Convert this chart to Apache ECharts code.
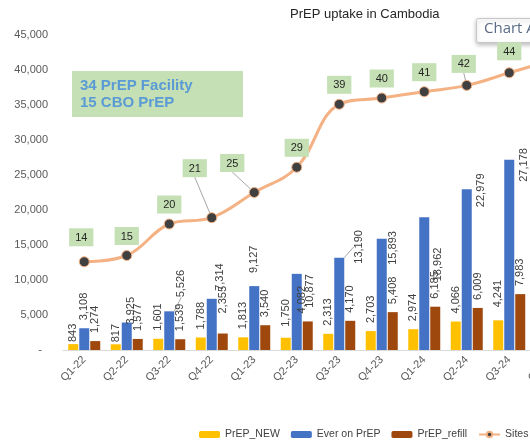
<!DOCTYPE html>
<html>
<head>
<meta charset="utf-8">
<script src="https://cdn.jsdelivr.net/npm/echarts@6/dist/echarts.min.js"></script>
<style>
html, body { margin: 0; padding: 0; background: #fff; overflow: hidden; }
/* the original screenshot is cut off on the right, so the chart runs past the window */
#main { width: 573px; height: 442px; }
</style>
</head>
<body>
<div id="main"></div>
<script>
// data (Q4-24 is cut off at the right edge, estimated)
var quarters = ['Q1-22', 'Q2-22', 'Q3-22', 'Q4-22', 'Q1-23', 'Q2-23', 'Q3-23', 'Q4-23', 'Q1-24', 'Q2-24', 'Q3-24', 'Q4-24'];
var prepNew = [843, 817, 1601, 1788, 1813, 1750, 2313, 2703, 2974, 4066, 4241, 4400];
var everOnPrep = [3108, 3925, 5526, 7314, 9127, 10877, 13190, 15893, 18962, 22979, 27178, 31400];
var prepRefill = [1274, 1577, 1539, 2355, 3540, 4082, 4170, 5408, 6185, 6009, 7983, 8300];
var sites = [14, 15, 20, 21, 25, 29, 39, 40, 41, 42, 44, 46];
var yTicks = [0, 5000, 10000, 15000, 20000, 25000, 30000, 35000, 40000, 45000];

var FONT = 'Liberation Sans';
var chart = echarts.init(document.getElementById('main'));

// screen nudges [right, down] for labels that were dragged around in the original
var barNudge = {
  0: { 0: [0, 6], 1: [0, 6], 5: [0, -3], 10: [0, -5] },
  1: { 1: [4, 10], 2: [12, -6], 3: [8, 0], 4: [0, -5], 5: [13, 42], 6: [20, 14], 7: [11, 34], 8: [14, 72], 9: [14, 26], 10: [15, 30] },
  2: { 3: [0, -12], 5: [-6, 0] }
};
var lineNudge = { 0: [-3, -5], 3: [-17, -30], 4: [-22, -10], 9: [-3, -2], 10: [0, -2] };
var leaderBars = { 2: true, 6: true };
var leaderLine = { 3: true, 4: true, 9: true };

function fmt(v) { return v.toLocaleString('en-US'); }

var barLabel = {
  show: true,
  position: 'top',
  rotate: 90,
  align: 'left',
  verticalAlign: 'middle',
  distance: 8,
  fontFamily: FONT,
  fontSize: 11,
  color: '#404040',
  formatter: function (p) { return fmt(p.value); }
};

function barSeries(name, values, color, idx) {
  return {
    name: name,
    type: 'bar',
    barWidth: 10,
    barGap: '10%',
    itemStyle: { color: color },
    label: barLabel,
    labelLine: { show: false, lineStyle: { color: '#a6a6a6', width: 1 } },
    // the label is rotated 90deg, so the shift is given in its own frame
    labelLayout: function (p) {
      var n = barNudge[idx][p.dataIndex];
      return n ? { dx: -n[1], dy: n[0] } : {};
    },
    data: values.map(function (v, i) {
      if (idx === 1 && leaderBars[i]) return { value: v, labelLine: { show: true } };
      return v;
    })
  };
}

var option = {
  animation: false,
  backgroundColor: '#fff',
  title: {
    text: 'PrEP uptake in Cambodia',
    left: 285,
    top: 3,
    textStyle: { fontFamily: FONT, fontSize: 13, fontWeight: 'normal', color: '#262626' }
  },
  legend: {
    data: ['PrEP_NEW', 'Ever on PrEP', 'PrEP_refill', 'Sites'],
    left: 194,
    top: 424,
    itemWidth: 21,
    itemHeight: 7,
    itemGap: 11,
    textStyle: { fontFamily: FONT, fontSize: 10.5, color: '#404040' }
  },
  grid: { left: 63, right: 0, top: 35, bottom: 92 },
  xAxis: {
    type: 'category',
    data: quarters,
    axisLine: { lineStyle: { color: '#d9d9d9' } },
    axisTick: { show: false },
    axisLabel: { rotate: 45, fontFamily: FONT, fontSize: 11, color: '#595959', margin: 8, interval: 0 }
  },
  yAxis: [{
    type: 'value',
    min: yTicks[0],
    max: yTicks[yTicks.length - 1],
    interval: yTicks[1] - yTicks[0],
    splitLine: { show: false },
    axisLine: { show: false },
    axisTick: { show: false },
    axisLabel: {
      margin: 15,
      fontFamily: FONT,
      fontSize: 11,
      color: '#595959',
      formatter: function (v) { return v === 0 ? '-  ' : fmt(v); }
    }
  }, {
    type: 'value',
    min: 0,
    max: 50,
    show: false
  }],
  series: [
    barSeries('PrEP_NEW', prepNew, '#ffc000', 0),
    barSeries('Ever on PrEP', everOnPrep, '#4472c4', 1),
    barSeries('PrEP_refill', prepRefill, '#9e480e', 2),
    {
      name: 'Sites',
      type: 'line',
      yAxisIndex: 1,
      smooth: 0.4,
      symbol: 'circle',
      symbolSize: 10,
      lineStyle: { color: '#f4b183', width: 3 },
      itemStyle: { color: '#404040', borderColor: '#f4b183', borderWidth: 1 },
      label: {
        show: true,
        position: 'top',
        distance: 5,
        fontFamily: FONT,
        fontSize: 11,
        color: '#262626',
        backgroundColor: '#c5e0b4',
        padding: [4, 6, 3, 6]
      },
      labelLine: { show: false, lineStyle: { color: '#a6a6a6', width: 1 } },
      labelLayout: function (p) {
        var n = lineNudge[p.dataIndex];
        return n ? { dx: n[0], dy: n[1] } : {};
      },
      data: sites.map(function (v, i) {
        return leaderLine[i] ? { value: v, labelLine: { show: true } } : v;
      })
    }
  ],
  graphic: [
    {
      type: 'rect',
      left: 72, top: 71,
      shape: { width: 171, height: 46 },
      style: { fill: '#c5e0b4' }
    },
    {
      type: 'text',
      left: 80, top: 77,
      style: {
        text: '34 PrEP Facility\n15 CBO PrEP',
        font: 'bold 15px "Liberation Sans"',
        lineHeight: 17,
        fill: '#5b9bd5'
      }
    },
    {
      type: 'rect',
      left: 476, top: 18,
      shape: { width: 90, height: 24, r: 2 },
      style: { fill: '#fff', stroke: '#c8c8c8', lineWidth: 1, shadowBlur: 4, shadowColor: 'rgba(0,0,0,0.25)', shadowOffsetY: 2 }
    },
    {
      type: 'text',
      left: 484, top: 21,
      style: { text: 'Chart Area', font: '15px "Open Sans"', fill: '#5a6b85' }
    }
  ]
};

chart.setOption(option);
</script>
</body>
</html>
